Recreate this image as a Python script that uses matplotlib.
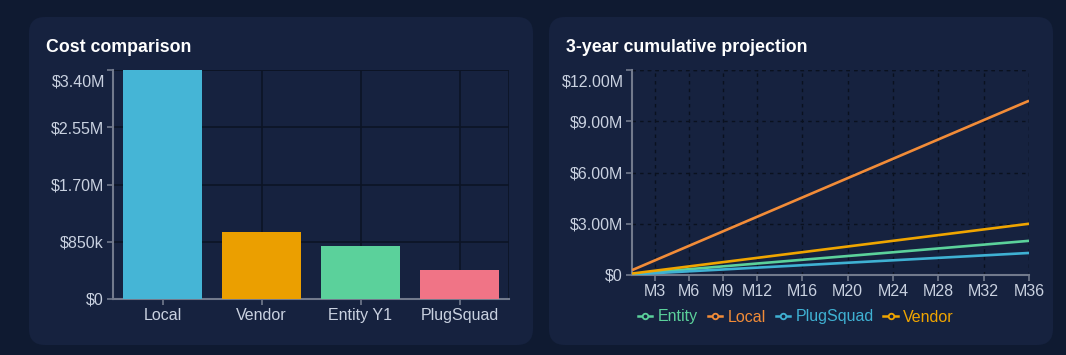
# Cost comparison dashboard - two cards, bar chart + cumulative projection

import matplotlib
matplotlib.use('Agg')
import matplotlib.pyplot as plt
from matplotlib.patches import FancyBboxPatch
from matplotlib.lines import Line2D

# Bar chart data (annual cost, USD)
bar_labels = ['Local', 'Vendor', 'Entity Y1', 'PlugSquad']
bar_values = [3400000, 1000000, 790000, 430000]
bar_colors = ['#45b5d6', '#eb9f00', '#5bd19b', '#f07486']

# Cumulative projection (month, USD) read at a few months; the lines are straight
proj_months = [1, 12, 24, 36]
entity_cum = [60000, 670000, 1330000, 2000000]
local_cum = [283000, 3400000, 6800000, 10200000]
plugsquad_cum = [36000, 430000, 860000, 1290000]
vendor_cum = [83000, 1000000, 2000000, 3000000]
month_ticks = [3, 6, 9, 12, 16, 20, 24, 28, 32, 36]

series = [
    ('Entity', entity_cum, '#5bd19b'),
    ('Local', local_cum, '#f28c38'),
    ('PlugSquad', plugsquad_cum, '#3fb1d3'),
    ('Vendor', vendor_cum, '#f0a500'),
]

W, H = 1066, 355
PAGE_BG = '#0f1a31'
CARD_BG = '#16223f'
TICK_COL = '#c9d1e0'
AXIS_COL = '#727a8c'
FS = 11.5

plt.rcParams['font.family'] = ['Liberation Sans', 'DejaVu Sans']

fig = plt.figure(figsize=(W / 100, H / 100), dpi=100, facecolor=PAGE_BG)

# background layer in pixel coords so the rounded cards stay round
bg = fig.add_axes([0, 0, 1, 1])
bg.set_xlim(0, W)
bg.set_ylim(H, 0)
bg.axis('off')
bg.set_zorder(-10)
for x0, x1 in [(29, 533), (549, 1053)]:
    bg.add_patch(FancyBboxPatch((x0, 17), x1 - x0, 328,
                                boxstyle='round,pad=0,rounding_size=16',
                                fc=CARD_BG, ec='none'))
bg.text(46, 47, 'Cost comparison', color='white', fontsize=12.8,
        fontweight='bold', va='center', ha='left')
bg.text(566, 47, '3-year cumulative projection', color='white', fontsize=12.8,
        fontweight='bold', va='center', ha='left')


def px_axes(x0, y0, x1, y1):
    return fig.add_axes([x0 / W, 1 - y1 / H, (x1 - x0) / W, (y1 - y0) / H])


def style_axes(ax):
    ax.set_facecolor('none')
    for s in ['top', 'right']:
        ax.spines[s].set_visible(False)
    for s in ['left', 'bottom']:
        ax.spines[s].set_color(AXIS_COL)
        ax.spines[s].set_linewidth(1.5)
    ax.tick_params(colors=AXIS_COL, labelcolor=TICK_COL, labelsize=FS,
                   length=4.5, width=1.2, pad=2)


def money(v):
    if v == 0:
        return '$0'
    if v >= 1e6:
        return f'${v / 1e6:.2f}M'
    return f'${v / 1e3:.0f}k'


# ---- left: cost comparison bars ----
ax1 = px_axes(113, 70, 509, 299)
style_axes(ax1)
x = range(len(bar_labels))
ax1.bar(x, bar_values, width=0.8, color=bar_colors, zorder=3)
ax1.set_xlim(-0.5, len(bar_labels) - 0.5)
top1 = 3400000
ax1.set_ylim(0, top1)
yt1 = [0, 850000, 1700000, 2550000, 3400000]
ax1.set_yticks(yt1)
ax1.set_yticklabels([money(v) for v in yt1[:-1]] + [''])
ax1.set_xticks(list(x))
ax1.set_xticklabels(bar_labels)
ax1.grid(True, color='#0c1425', linewidth=1.2, zorder=0)
ax1.axvline(len(bar_labels) - 0.5, color='#0c1425', linewidth=1.2, zorder=0)
ax1.axhline(top1, color='#0c1425', linewidth=1.2, zorder=0)
ax1.annotate(money(top1), xy=(0, top1), xycoords=('axes fraction', 'data'),
             xytext=(-8, -12), textcoords='offset pixels', ha='right',
             va='center', color=TICK_COL, fontsize=FS)

# ---- right: cumulative projection lines ----
ax2 = px_axes(632, 70, 1029, 275)
style_axes(ax2)
for name, vals, col in series:
    ax2.plot(proj_months, vals, color=col, linewidth=1.9, zorder=3,
             solid_capstyle='butt')
ax2.set_xlim(1, 36)
top2 = 12000000
ax2.set_ylim(0, top2)
yt2 = [0, 3000000, 6000000, 9000000, 12000000]
ax2.set_yticks(yt2)
ax2.set_yticklabels([money(v) for v in yt2[:-1]] + [''])
ax2.set_xticks(month_ticks)
ax2.set_xticklabels([f'M{m}' for m in month_ticks])
ax2.grid(True, color='#0a111f', linewidth=1.0, linestyle=(0, (2.5, 3)), zorder=0)
ax2.axvline(36, color='#0a111f', linewidth=1.0, linestyle=(0, (2.5, 3)), zorder=0)
ax2.axhline(top2, color='#0a111f', linewidth=1.0, linestyle=(0, (2.5, 3)), zorder=0)
ax2.annotate(money(top2), xy=(0, top2), xycoords=('axes fraction', 'data'),
             xytext=(-8, -12), textcoords='offset pixels', ha='right',
             va='center', color=TICK_COL, fontsize=FS)

handles = [Line2D([], [], color=col, linewidth=1.8, marker='o', markersize=4,
                  markerfacecolor=CARD_BG, markeredgecolor=col, markeredgewidth=1.3)
           for _, _, col in series]
leg = fig.legend(handles, [s[0] for s in series], loc='center',
                 bbox_to_anchor=(796 / W, 1 - 317 / H), ncol=4, frameon=False,
                 fontsize=FS, handlelength=0.9, handletextpad=0.35,
                 columnspacing=0.6)
for txt, (_, _, col) in zip(leg.get_texts(), series):
    txt.set_color(col)

fig.savefig('out.png', dpi=100, facecolor=PAGE_BG)
